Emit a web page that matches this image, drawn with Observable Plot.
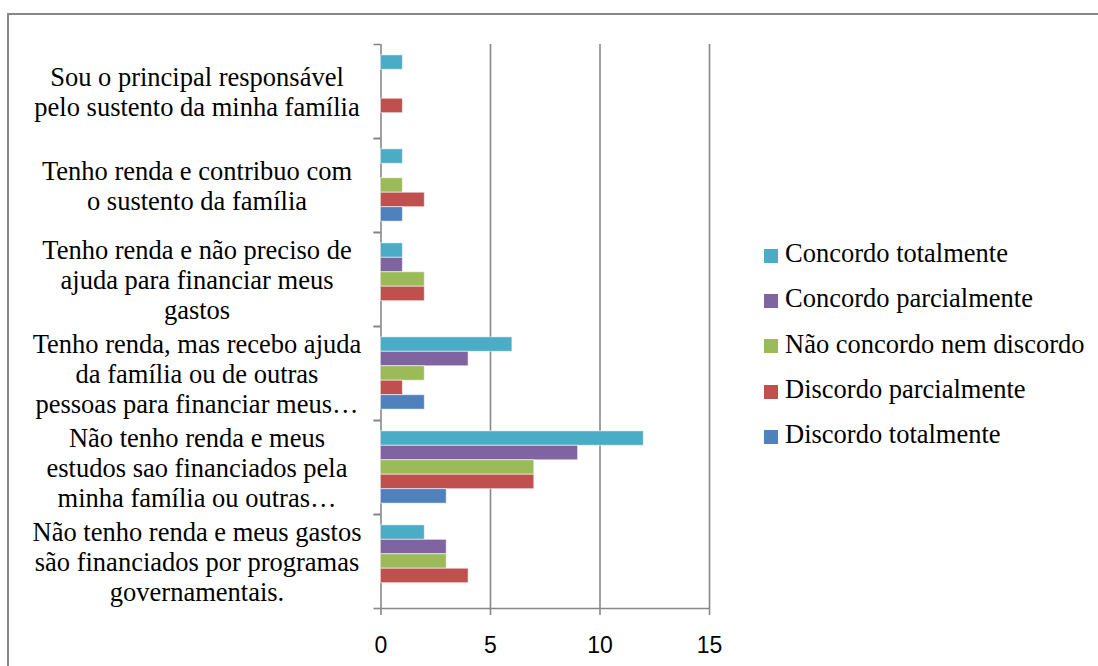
<!DOCTYPE html>
<html>
<head>
<meta charset="utf-8">
<script src="https://cdn.jsdelivr.net/npm/d3@7"></script>
<script src="https://cdn.jsdelivr.net/npm/@observablehq/plot@0.6"></script>
<style>
  html, body { margin: 0; padding: 0; background: #fff; }
  #wrap { position: relative; width: 1098px; height: 666px; overflow: hidden; }
  #border { position: absolute; left: 7px; top: 13px; width: 1300px; height: 900px; border: 2px solid #888; box-sizing: border-box; }
  #chart { position: absolute; left: 0; top: 0; }
  #legend { position: absolute; left: 764px; top: 231px; font-family: "Liberation Serif", "Times New Roman", serif; font-size: 26.5px; color: #000; }
  .item { display: flex; align-items: center; height: 45.3px; white-space: nowrap; }
  .sw { width: 14px; height: 14px; margin-right: 7px; margin-top: 4px; flex: none; }
</style>
</head>
<body>
<div id="wrap">
  <div id="border"></div>
  <div id="chart"></div>
  <div id="legend"></div>
</div>
<script>
// Categories, top to bottom as displayed (tick labels with their line breaks)
const categories = [
  "Sou o principal responsável\npelo sustento da minha família",
  "Tenho renda e contribuo com\no sustento da família",
  "Tenho renda e não preciso de\najuda para financiar meus\ngastos",
  "Tenho renda, mas recebo ajuda\nda família ou de outras\npessoas para financiar meus…",
  "Não tenho renda e meus\nestudos sao financiados pela\nminha família ou outras…",
  "Não tenho renda e meus gastos\nsão financiados por programas\ngovernamentais."
];

// Series, top to bottom within each group
const series = [
  "Concordo totalmente",
  "Concordo parcialmente",
  "Não concordo nem discordo",
  "Discordo parcialmente",
  "Discordo totalmente"
];
const colors = ["#4BACC6", "#8064A2", "#9BBB59", "#C0504D", "#4F81BD"];

// Values per series, aligned with categories
const concordoTotalmente   = [1, 1, 1, 6, 12, 2];
const concordoParcialmente = [0, 0, 1, 4, 9, 3];
const naoConcordo          = [0, 1, 2, 2, 7, 3];
const discordoParcialmente = [1, 2, 2, 1, 7, 4];
const discordoTotalmente   = [0, 1, 0, 2, 3, 0];

const xTicks = [0, 5, 10, 15];

const seriesValues = [concordoTotalmente, concordoParcialmente, naoConcordo, discordoParcialmente, discordoTotalmente];

const rows = [];
categories.forEach((cat, ci) => {
  series.forEach((s, si) => {
    const v = seriesValues[si][ci];
    if (v > 0) rows.push({cat, series: s, idx: si, value: v});
  });
});

const axisColor = "#888888";
const nSeries = series.length;
const pad = 0.75;
const lastCat = categories[categories.length - 1];
const serifFont = '"Liberation Serif", "Times New Roman", serif';
const sansFont = '"Liberation Sans", Arial, sans-serif';

const chart = Plot.plot({
  width: 1098,
  height: 666,
  marginLeft: 380.5,
  marginRight: 389,
  marginTop: 43,
  marginBottom: 57,
  style: {background: "transparent", overflow: "visible", fontFamily: serifFont},
  x: {domain: [0, 15], axis: null, label: null},
  y: {domain: [-pad, nSeries + pad], reverse: true, axis: null},
  fy: {domain: categories, padding: 0, axis: null},
  color: {domain: series, range: colors},
  marks: [
    Plot.ruleX(xTicks.filter(d => d > 0), {stroke: axisColor, strokeWidth: 1.6}),
    Plot.ruleX([0], {stroke: axisColor, strokeWidth: 1.6}),
    Plot.rect(rows, {
      x1: 0, x2: "value",
      y1: "idx", y2: d => d.idx + 1,
      fy: "cat", fill: "series",
      stroke: "#ffffff", strokeOpacity: 0.55, strokeWidth: 1
    }),
    Plot.axisY({ticks: [-pad, nSeries + pad], tickSize: 7, tickFormat: () => "", stroke: axisColor, strokeWidth: 1.6, label: null}),
    Plot.ruleY([{cat: lastCat, y: nSeries + pad}], {y: "y", fy: "cat", stroke: axisColor, strokeWidth: 1.6}),
    Plot.axisX({
      ticks: xTicks, tickSize: 7, tickPadding: 21, tickFormat: d => String(d), label: null,
      stroke: axisColor, strokeWidth: 1.6, fill: "#000",
      fontSize: 23, fontFamily: sansFont
    }),
    Plot.text(categories, {
      fy: d => d, text: d => d,
      frameAnchor: "left", textAnchor: "middle", dx: -184,
      lineHeight: 1.13, fontSize: 26.5,
      fontFamily: serifFont, fill: "#000"
    })
  ]
});
document.getElementById("chart").appendChild(chart);

const legend = document.getElementById("legend");
series.forEach((s, i) => {
  const item = document.createElement("div");
  item.className = "item";
  const sw = document.createElement("span");
  sw.className = "sw";
  sw.style.background = colors[i];
  const t = document.createElement("span");
  t.textContent = s;
  item.appendChild(sw);
  item.appendChild(t);
  legend.appendChild(item);
});
</script>
</body>
</html>
